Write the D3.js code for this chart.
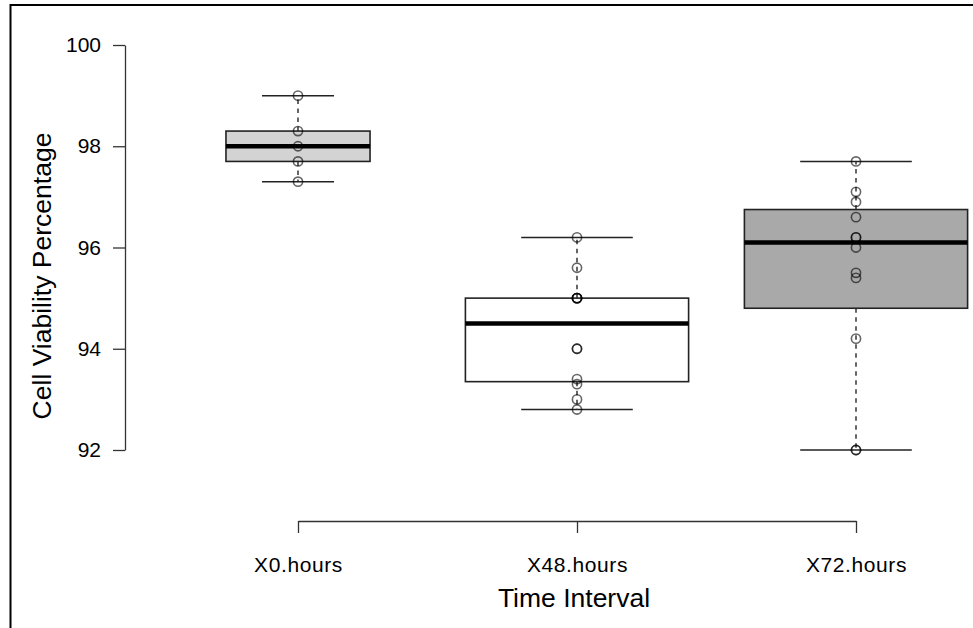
<!DOCTYPE html>
<html>
<head>
<meta charset="utf-8">
<script src="https://cdn.jsdelivr.net/npm/d3@7/dist/d3.min.js"></script>
<style>
  html, body { margin: 0; padding: 0; background: #fff; }
  svg { display: block; }
  text { font-family: "Liberation Sans", Arial, Helvetica, sans-serif; }
</style>
</head>
<body>
<svg id="chart" width="973" height="628"></svg>
<script>
// ---- data ----
const categories = ["X0.hours", "X48.hours", "X72.hours"];
const values0  = [97.3, 97.7, 98.0, 98.3, 99.0];
const values48 = [92.8, 93.0, 93.3, 93.4, 94.0, 94.0, 95.0, 95.0, 95.0, 95.0, 95.6, 96.2];
const values72 = [92.0, 92.0, 94.2, 95.4, 95.5, 96.0, 96.2, 96.2, 96.6, 96.9, 97.1, 97.7];
const boxFills = ["#d3d3d3", "#ffffff", "#a9a9a9"];
const yTicks = [92, 94, 96, 98, 100];
const xTitle = "Time Interval";
const yTitle = "Cell Viability Percentage";

const series = [values0, values48, values72];

// Tukey five-number summary (as R's fivenum / boxplot)
function fivenum(arr) {
  const x = arr.slice().sort((a, b) => a - b);
  const n = x.length;
  const n4 = Math.floor((n + 3) / 2) / 2;
  const d = [1, n4, (n + 1) / 2, n + 1 - n4, n];
  return d.map(v => 0.5 * (x[Math.floor(v) - 1] + x[Math.ceil(v) - 1]));
}
function boxStats(arr) {
  const f = fivenum(arr);
  const iqr = f[3] - f[1];
  const lo = f[1] - 1.5 * iqr, hi = f[3] + 1.5 * iqr;
  const inside = arr.filter(v => v >= lo && v <= hi);
  return { q1: f[1], med: f[2], q3: f[3], wlo: d3.min(inside), whi: d3.max(inside), n: arr.length };
}

const svg = d3.select("#chart");

// frame (cropped device border)
svg.append("path")
  .attr("d", "M10.5,628 V5 H973")
  .attr("fill", "none").attr("stroke", "#000").attr("stroke-width", 2);

const x = d3.scalePoint().domain(categories).range([298, 856]);
const y = d3.scaleLinear().domain([92, 100]).range([450, 45]);
const step = x.step();
const maxSqrt = d3.max(series, s => Math.sqrt(s.length));

const g = svg.append("g");

series.forEach((vals, i) => {
  const s = boxStats(vals);
  const cx = x(categories[i]);
  const w = 0.8 * step * Math.sqrt(s.n) / maxSqrt;
  const cap = w / 2;
  const bg = g.append("g");
  // whiskers (dashed)
  bg.append("line").attr("x1", cx).attr("x2", cx).attr("y1", y(s.q3)).attr("y2", y(s.whi))
    .attr("stroke", "#000").attr("stroke-width", 1.2).attr("stroke-dasharray", "4.5,4.5");
  bg.append("line").attr("x1", cx).attr("x2", cx).attr("y1", y(s.q1)).attr("y2", y(s.wlo))
    .attr("stroke", "#000").attr("stroke-width", 1.2).attr("stroke-dasharray", "4.5,4.5");
  // staples
  [s.whi, s.wlo].forEach(v => {
    bg.append("line").attr("x1", cx - cap / 2).attr("x2", cx + cap / 2).attr("y1", y(v)).attr("y2", y(v))
      .attr("stroke", "#222").attr("stroke-width", 1.5);
  });
  // box
  bg.append("rect").attr("x", cx - w / 2).attr("width", w)
    .attr("y", y(s.q3)).attr("height", y(s.q1) - y(s.q3))
    .attr("fill", boxFills[i]).attr("stroke", "#222").attr("stroke-width", 1.6);
  // median
  bg.append("line").attr("x1", cx - w / 2).attr("x2", cx + w / 2).attr("y1", y(s.med)).attr("y2", y(s.med))
    .attr("stroke", "#000").attr("stroke-width", 4.5);
  // points
  bg.selectAll("circle").data(vals).enter().append("circle")
    .attr("cx", cx).attr("cy", d => y(d)).attr("r", 4.6)
    .attr("fill", "none").attr("stroke", "#000").attr("stroke-opacity", 0.6).attr("stroke-width", 1.6);
});

// y axis
const yAxis = svg.append("g").attr("transform", "translate(125,0)")
  .call(d3.axisLeft(y).tickValues(yTicks).tickFormat(d3.format("d")).tickSize(12).tickSizeOuter(0).tickPadding(12));
yAxis.selectAll("path, line").attr("stroke", "#333").attr("stroke-width", 1.3);
yAxis.selectAll("text").attr("font-size", 21).attr("fill", "#000")
  .attr("font-family", "'Liberation Sans', Arial, sans-serif");

// x axis
const xAxis = svg.append("g").attr("transform", "translate(0,521)")
  .call(d3.axisBottom(x).tickSize(12).tickSizeOuter(0).tickPadding(24));
xAxis.selectAll("path, line").attr("stroke", "#333").attr("stroke-width", 1.3);
xAxis.selectAll("text").attr("font-size", 21).attr("fill", "#000").attr("letter-spacing", 0.6)
  .attr("font-family", "'Liberation Sans', Arial, sans-serif");

// titles
svg.append("text").attr("x", 574).attr("y", 607).attr("text-anchor", "middle")
  .attr("font-size", 26.5).attr("fill", "#000").text(xTitle);
svg.append("text").attr("transform", "translate(51,276) rotate(-90)").attr("text-anchor", "middle")
  .attr("font-size", 26.5).attr("fill", "#000").text(yTitle);
</script>
</body>
</html>
